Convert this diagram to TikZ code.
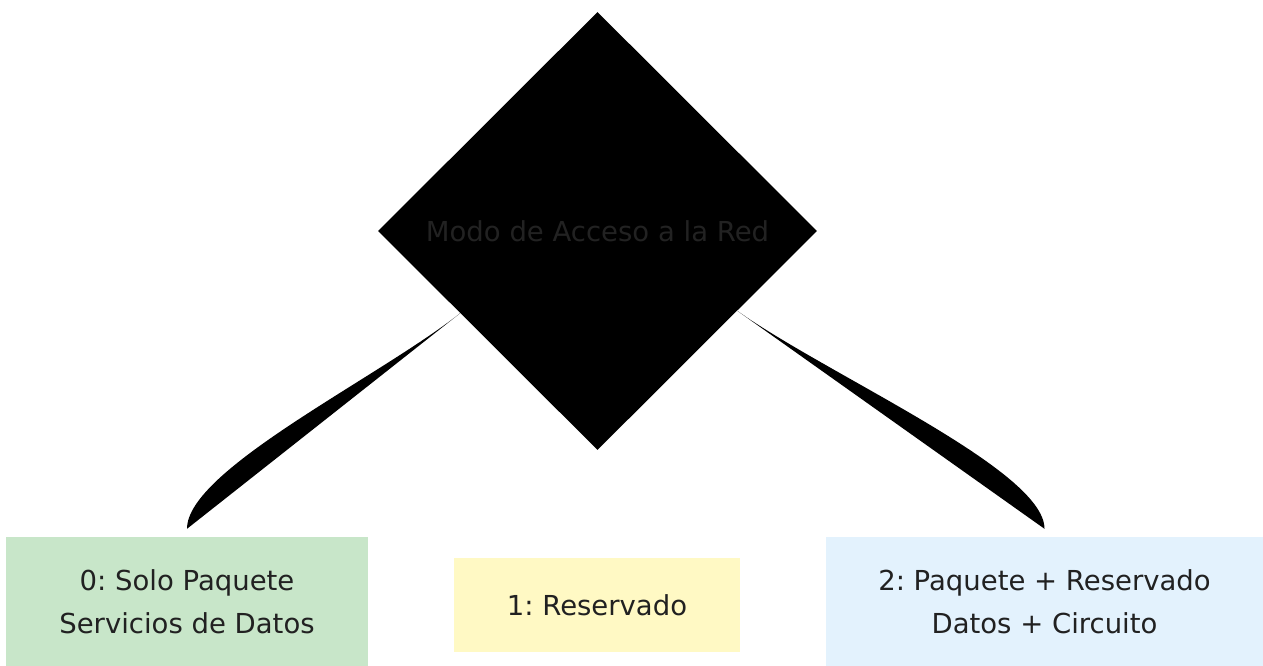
\documentclass[tikz,border=0pt]{standalone}
\usepackage{fontspec}
\setmainfont{DejaVu Sans}
\frenchspacing
\usetikzlibrary{shapes.geometric,calc}
\definecolor{gfill}{HTML}{C8E6C9}
\definecolor{yfill}{HTML}{FFF9C4}
\definecolor{bfill}{HTML}{E3F2FD}
\definecolor{txt}{HTML}{212121}
\definecolor{dtxt}{HTML}{222222}
\tikzset{
  optbox/.style={rectangle, inner sep=0pt, draw=none, text=txt, align=center,
    font=\fontsize{27.5}{43}\selectfont},
  decision/.style={diamond, aspect=1, inner sep=0pt, fill=black, draw=none,
    text=dtxt, font=\fontsize{27.5}{33}\selectfont},
  blade/.style={fill=black, draw=none}
}
\begin{document}
\begin{tikzpicture}[x=1pt,y=-1pt]
\useasboundingbox (0,0) rectangle (1263,666);
\node[decision, minimum width=439pt, minimum height=438pt] (d) at (597.5,231) {Modo de Acceso a la Red};
\node[optbox, fill=gfill, minimum width=362pt, minimum height=129pt] (g) at (187,601.5) {0: Solo Paquete\\Servicios de Datos};
\node[optbox, fill=yfill, minimum width=286pt, minimum height=94pt] (y) at (597,605) {1: Reservado};
\node[optbox, fill=bfill, minimum width=437pt, minimum height=129pt] (b) at (1044.5,601.5) {2: Paquete + Reservado\\Datos + Circuito};
\coordinate (la) at ($(d.west)!0.375!(d.south)$);
\coordinate (ra) at ($(d.east)!0.364!(d.south)$);
\coordinate (lb) at ([yshift=8pt]g.north);
\coordinate (rb) at ([yshift=8pt]b.north);
\fill[blade] (la) .. controls ($(la)!0.3!(lb)$) and ([yshift=59pt]lb) .. (lb) -- cycle;
\fill[blade] (ra) .. controls ($(ra)!0.3!(rb)$) and ([yshift=59pt]rb) .. (rb) -- cycle;
\end{tikzpicture}
\end{document}
